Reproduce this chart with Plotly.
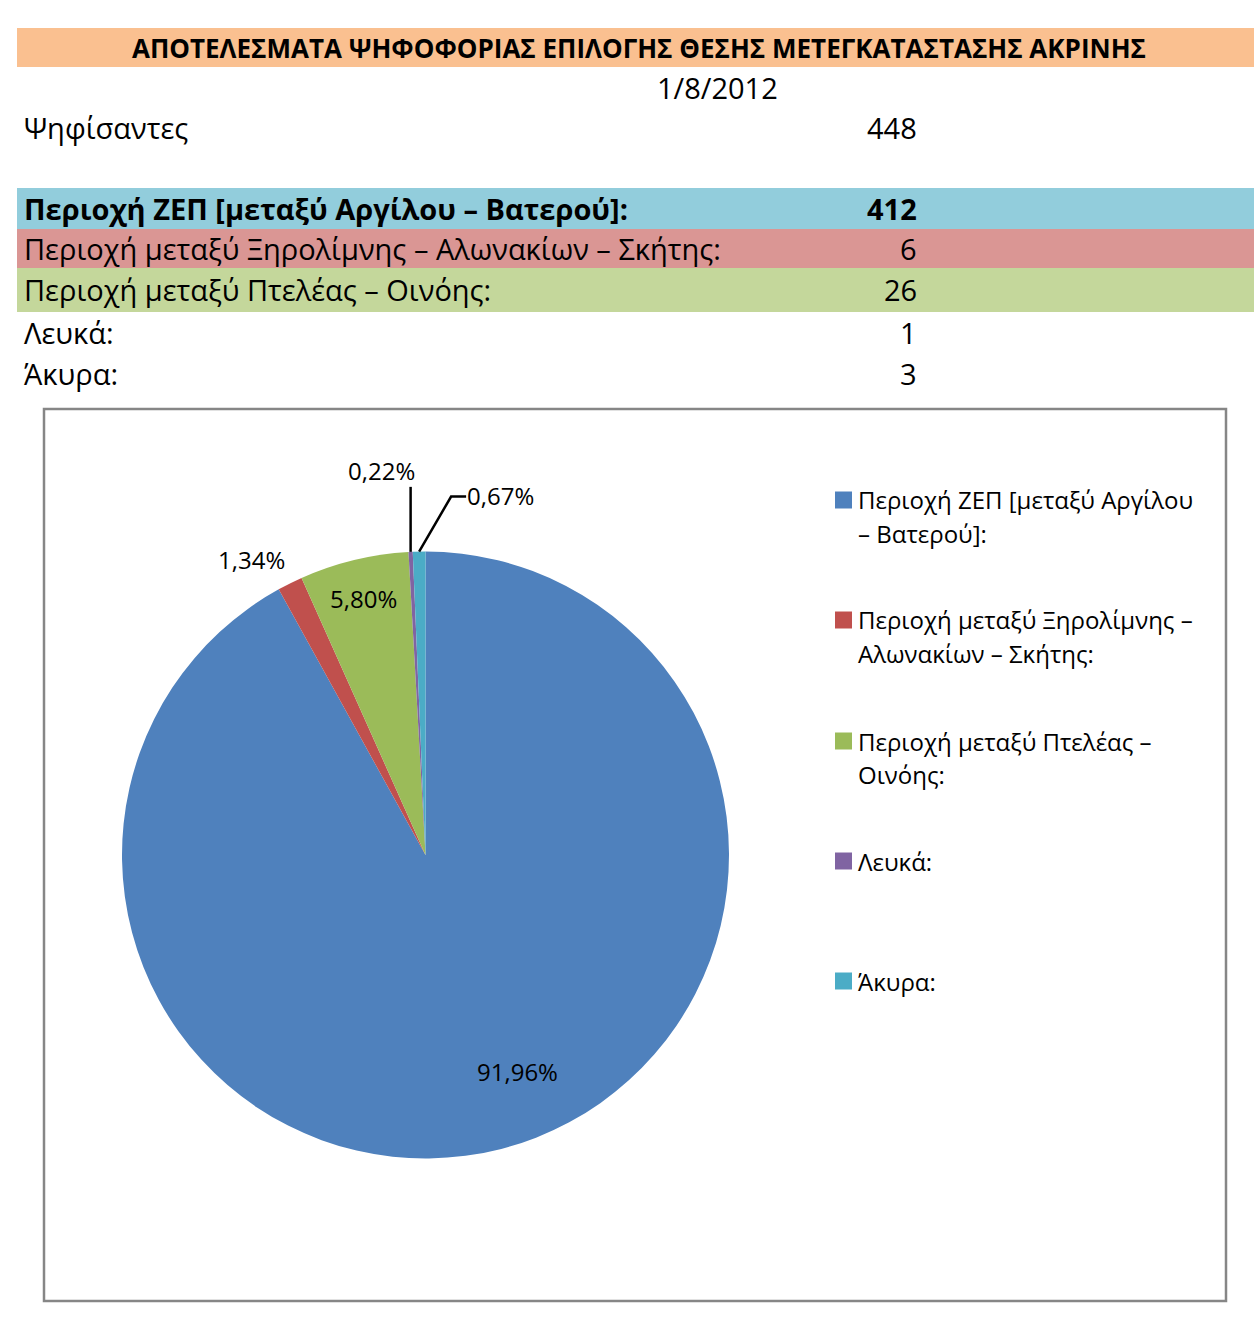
import math
import plotly.graph_objects as go

W, H = 1254, 1339

title = "ΑΠΟΤΕΛΕΣΜΑΤΑ ΨΗΦΟΦΟΡΙΑΣ ΕΠΙΛΟΓΗΣ ΘΕΣΗΣ ΜΕΤΕΓΚΑΤΑΣΤΑΣΗΣ ΑΚΡΙΝΗΣ"
date_label = "1/8/2012"
voters_label = "Ψηφίσαντες"
voters_total = 448

categories = [
    "Περιοχή ΖΕΠ [μεταξύ Αργίλου – Βατερού]:",
    "Περιοχή μεταξύ Ξηρολίμνης – Αλωνακίων – Σκήτης:",
    "Περιοχή μεταξύ Πτελέας – Οινόης:",
    "Λευκά:",
    "Άκυρα:",
]
votes = [412, 6, 26, 1, 3]
legend_lines = [
    ["Περιοχή ΖΕΠ [μεταξύ Αργίλου", "– Βατερού]:"],
    ["Περιοχή μεταξύ Ξηρολίμνης –", "Αλωνακίων – Σκήτης:"],
    ["Περιοχή μεταξύ Πτελέας –", "Οινόης:"],
    ["Λευκά:"],
    ["Άκυρα:"],
]

slice_colors = ["#4F81BD", "#C0504D", "#9BBB59", "#8064A2", "#4BACC6"]
row_bands = ["#92CDDC", "#DA9694", "#C4D79B", None, None]
FONT = "'Open Sans', 'Noto Sans', sans-serif"
LFONT = "'Open Sans', 'Noto Sans', sans-serif"
BODY = 29


def px(x):
    return x / W


def py(y):
    return 1 - y / H


shapes = []
annotations = []

# header band
shapes.append(dict(type="rect", xref="paper", yref="paper", x0=px(17), x1=px(1254),
                   y0=py(67), y1=py(28), fillcolor="#FAC090", line=dict(width=0), layer="below"))
annotations.append(dict(x=px(639), y=py(48), xref="paper", yref="paper", text="<b>" + title + "</b>",
                        showarrow=False, font=dict(family=FONT, size=26, color="black"),
                        xanchor="center", yanchor="middle"))
annotations.append(dict(x=px(718), y=py(87), xref="paper", yref="paper", text=date_label,
                        showarrow=False, font=dict(family=FONT, size=BODY, color="black"),
                        xanchor="center", yanchor="middle"))
annotations.append(dict(x=px(22), y=py(127), xref="paper", yref="paper", text=voters_label,
                        showarrow=False, font=dict(family=FONT, size=BODY, color="black"),
                        xanchor="left", yanchor="middle"))
annotations.append(dict(x=px(919), y=py(127), xref="paper", yref="paper", text=str(voters_total),
                        showarrow=False, font=dict(family=FONT, size=BODY, color="black"),
                        xanchor="right", yanchor="middle"))

row_top = [188, 229, 268, 312, 353]
row_bot = [229, 268, 312, 353, 394]
for i, (cat, v) in enumerate(zip(categories, votes)):
    yc = (row_top[i] + row_bot[i]) / 2
    if row_bands[i]:
        shapes.append(dict(type="rect", xref="paper", yref="paper", x0=px(17), x1=px(1254),
                           y0=py(row_bot[i]), y1=py(row_top[i]), fillcolor=row_bands[i],
                           line=dict(width=0), layer="below"))
    bold = i == 0
    t = "<b>%s</b>" % cat if bold else cat
    tv = "<b>%d</b>" % v if bold else str(v)
    annotations.append(dict(x=px(22), y=py(yc), xref="paper", yref="paper", text=t, showarrow=False,
                            font=dict(family=FONT, size=BODY, color="black"), xanchor="left", yanchor="middle"))
    annotations.append(dict(x=px(919), y=py(yc), xref="paper", yref="paper", text=tv, showarrow=False,
                            font=dict(family=FONT, size=BODY, color="black"), xanchor="right", yanchor="middle"))

# chart frame
shapes.append(dict(type="rect", xref="paper", yref="paper", x0=px(44), x1=px(1226),
                   y0=py(1301), y1=py(409), line=dict(color="#868686", width=2.5), layer="below"))

# pie geometry
CX, CY, R = 425.5, 855, 303.5
fig = go.Figure(go.Pie(
    labels=categories, values=votes, sort=False, direction="clockwise", rotation=0,
    marker=dict(colors=slice_colors, line=dict(width=0)),
    textinfo="none", hoverinfo="label+value+percent", showlegend=False,
    domain=dict(x=[px(CX - R), px(CX + R)], y=[py(CY + R), py(CY - R)]),
))

total = sum(votes)
pcts = [v / total * 100 for v in votes]
cum = 0
mids = []
for v in votes:
    mids.append((cum + v / 2) / total * 360)
    cum += v


def fmt(p):
    return ("%.2f%%" % p).replace(".", ",")


def polar(angle_deg, r):
    a = math.radians(angle_deg)
    return CX + r * math.sin(a), CY - r * math.cos(a)


LABEL_FONT = dict(family=LFONT, size=24, color="black")
label_specs = [
    (0, 0.775, -8.5),   # index, radius factor, angle tweak
    (2, 0.87, 0.0),
    (1, 1.13, -4.0),
]
for idx, rf, da in label_specs:
    x, y = polar(mids[idx] + da, R * rf)
    annotations.append(dict(x=px(x), y=py(y), xref="paper", yref="paper", text=fmt(pcts[idx]),
                            showarrow=False, font=LABEL_FONT, xanchor="center", yanchor="middle"))

# purple (index 3): vertical leader
x0, y0 = polar(mids[3], R)
shapes.append(dict(type="line", xref="paper", yref="paper", x0=px(x0), y0=py(y0),
                   x1=px(x0), y1=py(y0 - 65), line=dict(color="black", width=2.5)))
annotations.append(dict(x=px(x0 + 6), y=py(y0 - 63), xref="paper", yref="paper", text=fmt(pcts[3]),
                        showarrow=False, font=LABEL_FONT, xanchor="right", yanchor="bottom"))
# cyan (index 4): angled leader then horizontal
x0, y0 = polar(mids[4], R)
shapes.append(dict(type="path", xref="paper", yref="paper",
                   path="M %f %f L %f %f L %f %f" % (px(x0), py(y0), px(x0 + 32), py(y0 - 55),
                                                     px(x0 + 47), py(y0 - 55)),
                   line=dict(color="black", width=2.5)))
annotations.append(dict(x=px(x0 + 46), y=py(y0 - 56), xref="paper", yref="paper", text=fmt(pcts[4]),
                        showarrow=False, font=LABEL_FONT, xanchor="left", yanchor="middle"))

# legend
leg_y = [500, 620, 741, 861, 981]
LINE_H = 33
for i, lines in enumerate(legend_lines):
    shapes.append(dict(type="rect", xref="paper", yref="paper", x0=px(835), x1=px(852),
                       y0=py(leg_y[i] + 8.5), y1=py(leg_y[i] - 8.5), fillcolor=slice_colors[i],
                       line=dict(width=0)))
    for j, ln in enumerate(lines):
        annotations.append(dict(x=px(856), y=py(leg_y[i] + j * LINE_H), xref="paper", yref="paper",
                                text=ln, showarrow=False, font=LABEL_FONT,
                                xanchor="left", yanchor="middle"))

fig.update_layout(
    width=W, height=H, margin=dict(l=0, r=0, t=0, b=0),
    paper_bgcolor="white", plot_bgcolor="white",
    shapes=shapes, annotations=annotations, showlegend=False,
)
fig.write_html("out.html", config={"displayModeBar": False},
               post_script="document.body.style.margin='0';document.body.style.overflow='hidden';")
